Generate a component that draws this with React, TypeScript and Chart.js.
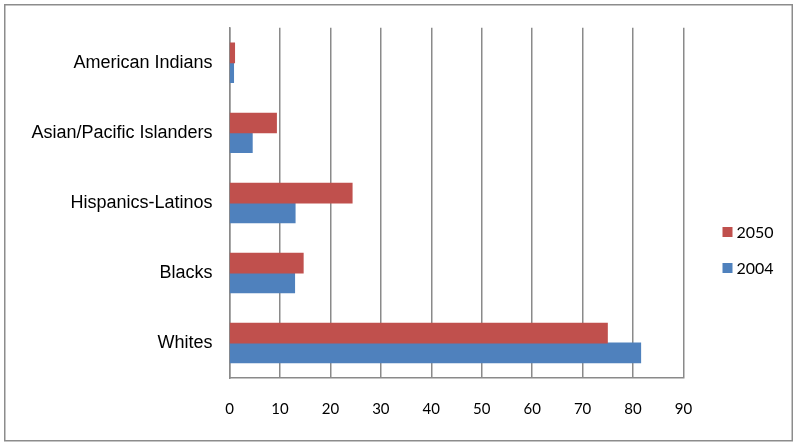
import React, { useEffect, useRef } from "react";
import { Chart, registerables } from "chart.js";

Chart.register(...registerables);

const categories = [
  "American Indians",
  "Asian/Pacific Islanders",
  "Hispanics-Latinos",
  "Blacks",
  "Whites",
];
const seriesNames = ["2050", "2004"];
const values2050 = [1.0, 9.3, 24.3, 14.6, 74.9];
const values2004 = [0.8, 4.5, 13.0, 12.9, 81.5];
const seriesColors = ["#C0504D", "#4F81BD"];
const xMin = 0;
const xMax = 90;
const xStep = 10;

const GRID = "#8a8a8a";

const framePlugin = {
  id: "frame",
  beforeDraw(chart: any) {
    const ctx = chart.ctx;
    ctx.save();
    ctx.fillStyle = "#ffffff";
    ctx.fillRect(0, 0, chart.width, chart.height);
    ctx.strokeStyle = "#8c8c8c";
    ctx.lineWidth = 1.5;
    ctx.strokeRect(4.75, 4.75, 787.5, 436);
    ctx.restore();
  },
};

const sideLegend = {
  id: "sideLegend",
  afterDraw(chart: any) {
    const ctx = chart.ctx;
    const area = chart.chartArea;
    ctx.save();
    ctx.font = "16px Lato, 'Liberation Sans', sans-serif";
    ctx.textBaseline = "middle";
    ctx.textAlign = "left";
    chart.data.datasets.forEach((ds: any, i: number) => {
      const x = area.right + 39;
      const y = 232 + i * 36;
      ctx.fillStyle = ds.backgroundColor;
      ctx.fillRect(x, y - 5, 10, 10);
      ctx.fillStyle = "#000000";
      ctx.fillText(ds.label, x + 14, y + 1);
    });
    ctx.restore();
  },
};

export default function App() {
  const ref = useRef<HTMLCanvasElement | null>(null);
  useEffect(() => {
    if (!ref.current) return;
    const chart = new Chart(ref.current, {
      type: "bar",
      data: {
        labels: categories,
        datasets: [
          {
            label: seriesNames[0],
            data: values2050,
            backgroundColor: seriesColors[0],
            categoryPercentage: 40 / 71,
            barPercentage: 1,
            inflateAmount: 0.5,
          },
          {
            label: seriesNames[1],
            data: values2004,
            backgroundColor: seriesColors[1],
            categoryPercentage: 40 / 71,
            barPercentage: 1,
            inflateAmount: 0.5,
          },
        ],
      },
      options: {
        indexAxis: "y",
        animation: false,
        responsive: true,
        maintainAspectRatio: false,
        layout: { padding: { top: 25, left: 0, right: 116.5, bottom: 6 } },
        plugins: {
          legend: { display: false },
          tooltip: { enabled: false },
        },
        scales: {
          x: {
            min: xMin,
            max: xMax,
            ticks: {
              stepSize: xStep,
              padding: 22,
              color: "#000000",
              font: { family: "Lato, 'Liberation Sans', sans-serif", size: 15 },
            },
            grid: { color: GRID, lineWidth: 1.5, drawTicks: false },
            border: { display: true, color: GRID, width: 1.5 },
          },
          y: {
            afterFit: (scale: any) => {
              scale.width = 229.5;
            },
            ticks: {
              padding: 17,
              color: "#000000",
              font: { family: "'Liberation Sans', Arial, sans-serif", size: 18 },
            },
            grid: { display: false, drawTicks: false },
            border: { display: true, color: GRID, width: 1.5 },
          },
        },
      },
      plugins: [framePlugin, sideLegend],
    } as any);
    return () => chart.destroy();
  }, []);
  return (
    <div style={{ position: "fixed", left: 0, top: 0, width: 800, height: 446 }}>
      <canvas ref={ref} />
    </div>
  );
}
